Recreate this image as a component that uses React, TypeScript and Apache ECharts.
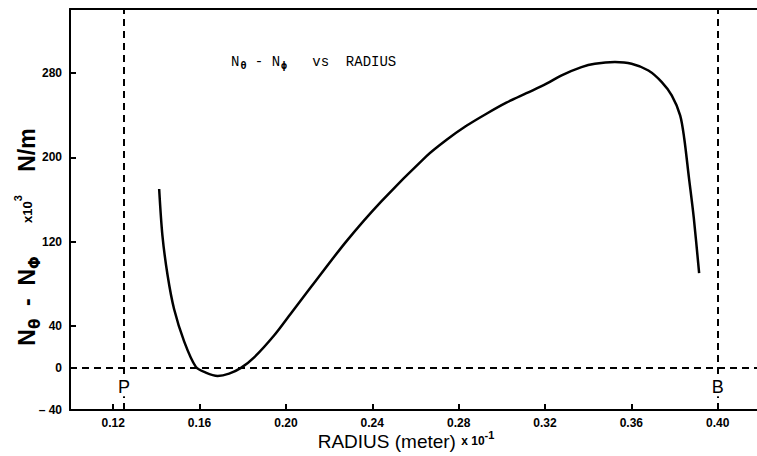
import React, { useEffect, useRef } from "react";
import * as echarts from "echarts";

// Radius (meter x 10^-1) and N_theta - N_phi (x10^3 N/m)
const radius = [
  0.1413, 0.1428, 0.1452, 0.1482, 0.1529, 0.1583, 0.1629, 0.1684, 0.1737, 0.1792,
  0.1853, 0.1946, 0.2024, 0.2117, 0.2279, 0.2441, 0.265, 0.2743, 0.2836, 0.2929,
  0.3021, 0.3114, 0.3207, 0.3277, 0.3369, 0.3431, 0.3524, 0.3601, 0.3679, 0.3741,
  0.3787, 0.3826, 0.3845, 0.3866, 0.3889, 0.3914,
];
const nDiff = [
  170, 126, 88, 56, 25, 1, -4.5, -7.6, -5.4, 0,
  10, 31, 52, 77, 120, 158, 201, 216.5, 230, 241.5,
  252, 261, 270, 278, 285.8, 289, 290.6, 289, 282.6, 271.6,
  258.9, 240, 218, 182, 143, 90,
];

// axis ticks
const xTicks = [0.12, 0.16, 0.2, 0.24, 0.28, 0.32, 0.36, 0.4];
const yLabelTicks = [-40, 0, 40, 120, 200, 280];
const yMarkTicks = [40, 120, 200, 280];

// reference lines
const markerRadii = [0.125, 0.4];
const markerNames = ["P", "B"];
const markerLabelLevel = -18;
const zeroLevel = 0;

const X_MIN = 0.1;
const X_MAX = 0.4182;
const Y_MIN = -40;
const Y_MAX = 341;

export default function App() {
  const ref = useRef<HTMLDivElement>(null);

  useEffect(() => {
    if (!ref.current) return;
    const chart = echarts.init(ref.current, undefined, { renderer: "svg" });
    const sans = "Liberation Sans";
    const option: any = {
      animation: false,
      backgroundColor: "#fff",
      title: {
        left: 226,
        top: 49,
        text: "N{sub|θ} - N{sub|ϕ}   vs  RADIUS",
        textStyle: {
          fontFamily: "Liberation Mono",
          fontSize: 14,
          color: "#000",
          fontWeight: "normal",
          rich: {
            sub: {
              fontFamily: "DejaVu Sans Mono",
              fontSize: 10,
              fontWeight: "bold",
              color: "#000",
              verticalAlign: "bottom",
              padding: [6, 0, 0, 1],
            },
          },
        },
      },
      grid: { left: 70, right: 0, top: 9, bottom: 46, containLabel: false },
      xAxis: [
        {
          type: "value",
          min: X_MIN,
          max: X_MAX,
          position: "bottom",
          splitLine: { show: false },
          axisLine: { onZero: false, lineStyle: { color: "#000", width: 2 } },
          axisTick: {
            show: true,
            inside: true,
            length: 6,
            customValues: xTicks,
            lineStyle: { color: "#000", width: 2 },
          },
          axisLabel: {
            customValues: xTicks,
            formatter: (v: number) => v.toFixed(2),
            fontFamily: sans,
            fontWeight: "bold",
            fontSize: 12,
            color: "#000",
            margin: 7,
          },
        },
        {
          type: "value",
          min: X_MIN,
          max: X_MAX,
          position: "top",
          splitLine: { show: false },
          axisLine: { onZero: false, lineStyle: { color: "#000", width: 2 } },
          axisTick: { show: false },
          axisLabel: { show: false },
        },
      ],
      yAxis: {
        type: "value",
        min: Y_MIN,
        max: Y_MAX,
        splitLine: { show: false },
        axisLine: { onZero: false, lineStyle: { color: "#000", width: 2 } },
        axisTick: {
          show: true,
          inside: true,
          length: 6,
          customValues: yMarkTicks,
          lineStyle: { color: "#000", width: 2 },
        },
        axisLabel: {
          customValues: yLabelTicks,
          formatter: (v: number) => (v < 0 ? "– " + Math.abs(v) : String(v)),
          fontFamily: sans,
          fontWeight: "bold",
          fontSize: 12,
          color: "#000",
          margin: 8,
        },
      },
      graphic: [
        {
          type: "text",
          x: 27,
          y: 237,
          rotation: Math.PI / 2,
          style: {
            text: "{b|N}{s|θ}{b|  -  N}{s|Φ}{g|          }{m|x10}{p|3}{g|       }{b|N/m}",
            align: "center",
            verticalAlign: "middle",
            fill: "#000",
            rich: {
              b: { fontFamily: sans, fontWeight: "bold", fontSize: 23, fill: "#000", lineHeight: 30 },
              s: {
                fontFamily: "DejaVu Sans",
                fontWeight: "bold",
                fontSize: 15,
                fill: "#000",
                lineHeight: 30,
                verticalAlign: "bottom",
                padding: [10, 0, 0, 0],
              },
              m: { fontFamily: sans, fontWeight: "bold", fontSize: 13, fill: "#000", lineHeight: 30 },
              p: {
                fontFamily: sans,
                fontWeight: "bold",
                fontSize: 11,
                fill: "#000",
                lineHeight: 30,
                verticalAlign: "top",
                padding: [0, 0, 10, 0],
              },
              g: { fontSize: 12, lineHeight: 30 },
            },
          },
        },
        {
          type: "text",
          x: 406,
          y: 441,
          style: {
            text: "{t|RADIUS (meter) }{m|x 10}{p|-1}",
            align: "center",
            verticalAlign: "middle",
            fill: "#000",
            rich: {
              t: { fontFamily: sans, fontSize: 19, fill: "#000", lineHeight: 24 },
              m: { fontFamily: sans, fontSize: 12, fontWeight: "bold", fill: "#000", lineHeight: 24 },
              p: {
                fontFamily: sans,
                fontSize: 11,
                fontWeight: "bold",
                fill: "#000",
                lineHeight: 24,
                verticalAlign: "top",
                padding: [0, 0, 10, 0],
              },
            },
          },
        },
      ],
      series: [
        {
          type: "line",
          data: radius.map((r, i) => [r, nDiff[i]]),
          smooth: 0.3,
          showSymbol: false,
          symbol: "none",
          lineStyle: { color: "#000", width: 2.5 },
          z: 3,
          markLine: {
            silent: true,
            symbol: "none",
            precision: 4,
            label: { show: false },
            lineStyle: { color: "#000", width: 2, type: [7, 5] },
            data: [
              { yAxis: zeroLevel },
              ...markerRadii.map((r) => ({ xAxis: r })),
            ],
          },
        },
        {
          type: "scatter",
          symbolSize: 0,
          z: 5,
          silent: true,
          itemStyle: { opacity: 1, color: "#000" },
          data: markerRadii.map((r, i) => ({ value: [r, markerLabelLevel], name: markerNames[i] })),
          label: {
            show: true,
            position: "inside",
            formatter: (p: any) => p.name,
            fontFamily: sans,
            fontSize: 18,
            color: "#000",
            textBorderWidth: 0,
            backgroundColor: "#fff",
            padding: [1, 2, 0, 2],
          },
        },
      ],
    };
    chart.setOption(option);
    return () => chart.dispose();
  }, []);

  return (
    <div
      ref={ref}
      style={{ position: "fixed", left: 0, top: 0, width: 757, height: 456 }}
    />
  );
}
